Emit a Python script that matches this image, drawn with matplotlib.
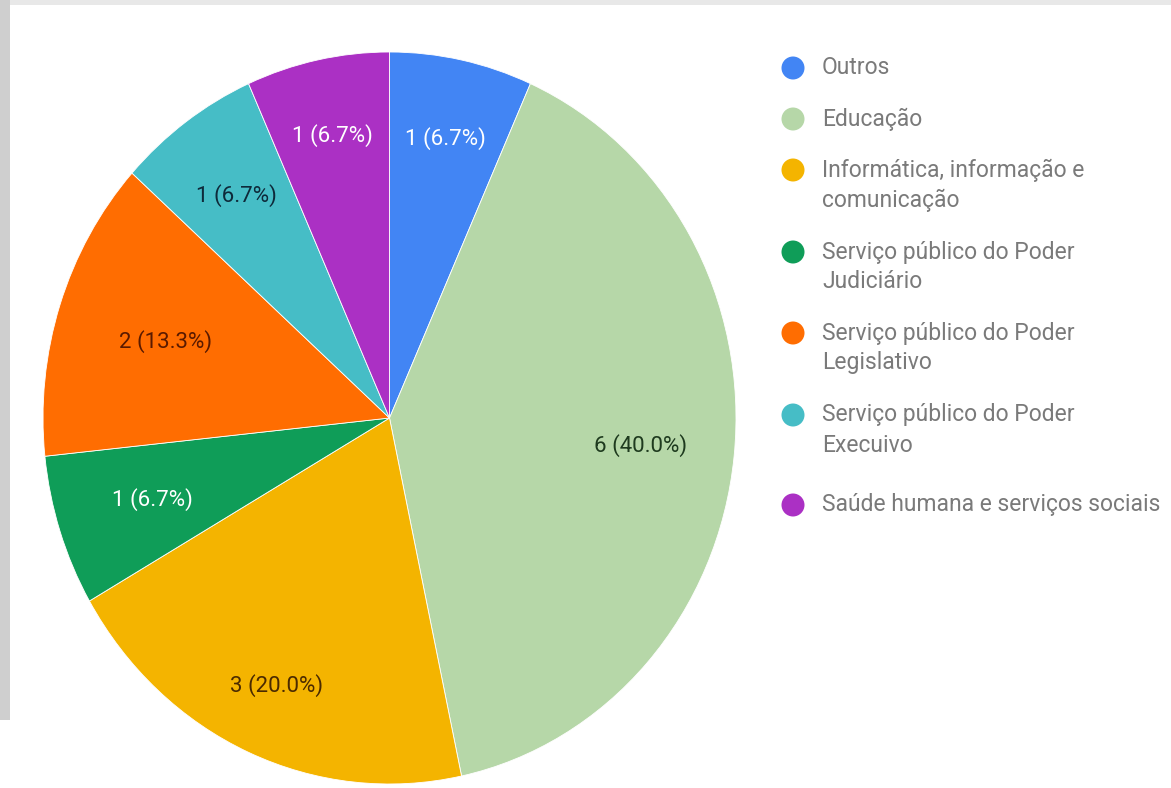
import numpy as np
import matplotlib.pyplot as plt
from matplotlib.patches import Rectangle, Ellipse

# ----------------------------
# Daten
# ----------------------------
categories = [
    "Outros",
    "Educação",
    "Informática, informação e\ncomunicação",
    "Serviço público do Poder\nJudiciário",
    "Serviço público do Poder\nLegislativo",
    "Serviço público do Poder\nExecuivo",
    "Saúde humana e serviços sociais",
]
values = [1, 6, 3, 1, 2, 1, 1]

colors = ["#4285F4", "#B6D7A8", "#F4B400", "#0F9D58", "#FF6D01", "#46BDC6", "#AB30C4"]
label_colors = ["#FFFFFF", "#1E3A1E", "#4A2A00", "#FFFFFF", "#5A1A00", "#0E2A3A", "#FFFFFF"]
# Abstand der Beschriftung vom Mittelpunkt (wie im Original, je Segment leicht anders)
label_dist = [0.78, 0.73, 0.80, 0.72, 0.68, 0.75, 0.79]

plt.rcParams["font.family"] = ["Roboto", "DejaVu Sans"]

W, H = 1171, 788
fig = plt.figure(figsize=(W / 100, H / 100), dpi=100)
fig.patch.set_facecolor("white")

# grauer Rahmen (Screenshot-Rand)
fig.patches.append(Rectangle((0, 1 - 5 / H), 1, 5 / H, transform=fig.transFigure,
                             facecolor="#E8E8E8", edgecolor="none"))
fig.patches.append(Rectangle((0, 1 - 720 / H), 10 / W, 720 / H, transform=fig.transFigure,
                             facecolor="#CFCFCF", edgecolor="none"))

# ----------------------------
# Kreisdiagramm (leicht gestreckt wie im Original)
# ----------------------------
cx, cy, rx, ry = 389.5, 418, 346.5, 366
ax = fig.add_axes([(cx - rx) / W, 1 - (cy + ry) / H, 2 * rx / W, 2 * ry / H])

total = sum(values)
wedges, texts, autotexts = ax.pie(
    values,
    colors=colors,
    startangle=90,
    counterclock=False,
    autopct=lambda p: f"{round(p * total / 100):d} ({p:.1f}%)",
    pctdistance=0.75,
    wedgeprops=dict(linewidth=0.6, edgecolor="white"),
    textprops=dict(fontsize=16),
)
for w, t, c, d in zip(wedges, autotexts, label_colors, label_dist):
    ang = np.deg2rad((w.theta1 + w.theta2) / 2)
    t.set_position((d * np.cos(ang), d * np.sin(ang)))
    t.set_color(c)
ax.set_aspect("auto")
ax.set_xlim(-1, 1)
ax.set_ylim(-1, 1)
ax.axis("off")

# ----------------------------
# Legende
# ----------------------------
legend_y = [68, 119, 170, 252, 333, 415, 505]
line_gap = 30
for name, col, y in zip(categories, colors, legend_y):
    fig.patches.append(Ellipse((793 / W, 1 - y / H), 23 / W, 23 / H,
                               transform=fig.transFigure, facecolor=col, edgecolor="none"))
    for i, line in enumerate(name.split("\n")):
        fig.text(822 / W, 1 - (y + i * line_gap) / H, line, color="#7A7A7A",
                 fontsize=16.5, ha="left", va="center")

plt.savefig("out.png", dpi=100)
